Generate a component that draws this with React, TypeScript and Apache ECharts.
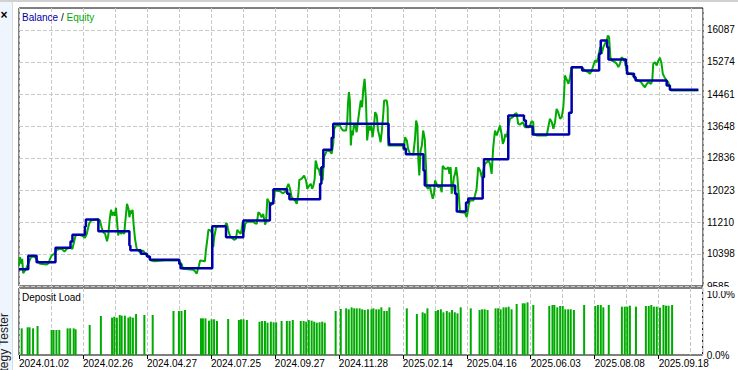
import React, { useEffect, useRef } from "react";
import * as echarts from "echarts";

// x positions are deal-sequence positions (0 .. 213.75); labels every 20
const xLabelPositions = [0, 20, 40, 60, 80, 100, 120, 140, 160, 180, 200];
const xTickLabels = [
  "2024.01.02", "2024.02.26", "2024.04.27", "2024.07.25", "2024.09.27", "2024.11.28",
  "2025.02.14", "2025.04.16", "2025.06.03", "2025.08.08", "2025.09.18",
];
const yTickValues = [9585, 10398, 11210, 12023, 12836, 13648, 14461, 15274, 16087];
const loadTickValues = [0, 10];

const balance: [number, number][] = [
  [0, 10011], [2.9, 10351], [5.5, 10189], [11.4, 10555], [16.1, 10715], [16.7, 10885],
  [20.6, 11096], [20.9, 11273], [24.8, 10976], [34.5, 10613], [34.8, 10494], [38.1, 10402],
  [40, 10334], [40.9, 10250], [50.1, 10143], [50.5, 10036], [60.4, 11103], [64.7, 10824],
  [70.1, 11248], [78.4, 11680], [79.5, 12043], [83.8, 11926], [84.5, 11789], [94.1, 12180],
  [94.5, 12602], [95.1, 13044], [97.7, 13349], [98.2, 13704], [115.5, 13407], [115.7, 13178],
  [120.3, 13069], [120.9, 12932], [126.4, 12518], [126.8, 12137], [136.3, 11926], [136.8, 11477],
  [139.7, 11705], [140.4, 11807], [144.9, 12348], [145.3, 12805], [152.9, 13915], [157.8, 13788],
  [158.4, 13636], [160.5, 13432], [171.9, 13984], [172.7, 15142], [176, 15058], [181.3, 15482],
  [181.8, 15820], [183.8, 15650], [184.2, 15337], [189.7, 15185], [190, 14974], [192.2, 14888],
  [192.7, 14804], [202.4, 14677], [203.4, 14568], [212.3, 14568],
];

const equity: [number, number][] = [
  [0, 10105], [0.3, 10316], [0.8, 10148], [1.0, 10275], [1.3, 9909], [1.9, 9978], [2.4, 10062],
  [3.1, 10189], [3.75, 10316], [4.5, 10334], [5.2, 10301], [5.8, 10232], [6.6, 10148], [8.7, 10130],
  [9.2, 10163], [9.7, 10275], [10.2, 10359], [11.0, 10402], [11.8, 10504], [13.3, 10529],
  [14.2, 10461], [14.9, 10529], [15.9, 10555], [16.7, 10529], [17.3, 10740], [17.7, 10867],
  [18.5, 10885], [19.6, 10867], [20.6, 10809], [21.2, 10910], [21.9, 11164], [22.5, 11248],
  [24.8, 11281], [25.3, 11248], [25.8, 11078], [26.3, 10951], [26.9, 10910], [27.5, 10722],
  [27.9, 10867], [28.3, 11248], [28.75, 11520], [29.2, 11375], [29.6, 11459], [30.0, 11375],
  [30.3, 11571], [30.7, 11164], [31.0, 10867], [31.3, 10994], [31.9, 10910], [32.3, 10951],
  [32.9, 10910], [33.1, 11121], [33.4, 11375], [33.75, 11672], [34.2, 11545], [34.5, 11332],
  [34.9, 11502], [35.2, 11418], [35.5, 11520], [35.8, 11164], [36.25, 10783], [36.8, 10529],
  [37.8, 10443], [38.8, 10486], [39.6, 10384], [40.4, 10334], [41.25, 10232], [42.3, 10214],
  [45.6, 10232], [49.8, 10232], [50.8, 10148], [51.3, 10021], [54.5, 9996], [55, 9960],
  [55.5, 9894], [55.8, 9978], [56.25, 10105], [56.6, 10232], [58.1, 10214], [58.4, 10486],
  [58.8, 10740], [59.2, 11012], [59.9, 10994], [60.4, 10910], [60.7, 10570], [61.0, 10824],
  [61.6, 11078], [62.3, 11103], [64.4, 11103], [64.7, 11179], [65, 11164], [65.4, 10994],
  [65.9, 10867], [66.5, 10809], [67.2, 10758], [67.8, 10783], [68.2, 11012], [68.8, 10951],
  [69.3, 10910], [69.6, 11037], [69.9, 11205], [70.3, 10951], [70.7, 11164], [71.3, 11215],
  [73.2, 11215], [73.75, 11179], [74.3, 11164], [74.8, 11459], [75.3, 11418], [75.8, 11332],
  [76.3, 11418], [76.9, 11146], [77.2, 11205], [77.6, 11799], [78.2, 11713], [78.75, 11629],
  [79.5, 11756], [80, 12010], [81.6, 11992], [82.4, 11941], [83.1, 11967], [84.2, 12180],
  [84.7, 12053], [85.2, 11840], [86.25, 11756], [86.8, 11672], [87.3, 11926], [87.6, 12282],
  [88.3, 12307], [89.1, 12391], [89.7, 12264], [90.1, 12053], [90.7, 12137], [91.2, 12180],
  [91.6, 12053], [92, 12137], [92.4, 12307], [92.7, 12772], [93, 12688], [93.3, 12561],
  [93.7, 12561], [94.1, 12391], [94.5, 12602], [94.9, 12264], [95.3, 12856], [96.2, 13026],
  [97.2, 13008], [97.7, 12942], [98.2, 13196], [98.5, 13577], [99.1, 13661], [100.3, 13661],
  [100.8, 13577], [101.3, 13534], [102.2, 13534], [102.6, 13788], [102.8, 14212], [103.1, 14507],
  [103.4, 14296], [103.7, 13153], [104, 13534], [104.3, 13407], [104.7, 13704], [105.1, 13661],
  [105.5, 13491], [105.9, 13745], [106.3, 13999], [106.8, 14296], [107.2, 14126], [107.6, 14593],
  [108, 14847], [108.4, 14339], [108.8, 13280], [109.3, 13661], [109.7, 13534], [110.1, 13661],
  [110.5, 13364], [110.9, 13618], [111.3, 13999], [111.8, 13915], [112.2, 13534], [112.6, 13407],
  [113, 13237], [113.4, 13534], [113.8, 13915], [114.1, 14296], [114.9, 14296], [115.2, 14126],
  [115.4, 13153], [119.9, 13153], [120.3, 13026], [120.6, 13364], [121.2, 13280], [121.6, 13069],
  [122.2, 12942], [123.2, 12924], [123.75, 13323], [124.1, 13788], [124.5, 13661], [124.8, 12772],
  [125.1, 12391], [125.5, 13026], [125.9, 13153], [126.3, 13534], [126.8, 13323], [127.2, 12602],
  [127.4, 12094], [127.9, 12053], [128.4, 12137], [128.8, 11967], [129.3, 11799], [129.7, 11926],
  [130, 12264], [130.5, 12180], [131, 12094], [131.6, 12137], [132.1, 11967], [132.4, 12637],
  [133.1, 12561], [133.7, 12561], [134.2, 12602], [134.5, 12434], [134.9, 12602], [135.2, 11926],
  [135.5, 12053], [135.9, 12348], [136.25, 12434], [136.6, 12602], [137, 12348], [137.4, 11926],
  [137.8, 11459], [139.4, 11444], [139.9, 11332], [140.2, 11459], [140.5, 11629], [140.9, 11756],
  [142, 11756], [142.5, 11883], [143, 12053], [143.5, 12602], [144.1, 12518], [144.6, 12348],
  [145.1, 12518], [145.6, 12688], [146.2, 12729], [146.7, 12772], [147.2, 12688], [147.7, 12434],
  [148.2, 13110], [148.75, 13534], [149.3, 13407], [149.8, 13534], [150.3, 13661], [150.8, 13450],
  [151.2, 13196], [151.6, 13280], [152, 13450], [152.4, 13364], [152.9, 13618], [153.4, 13831],
  [154.3, 13872], [155, 13958], [155.5, 13973], [156, 13704], [156.6, 13686], [157.4, 13745],
  [158.1, 13618], [159.5, 13618], [160.2, 13770], [160.7, 13745], [160.9, 13450], [161.8, 13407],
  [164.9, 13407], [165.4, 13618], [165.9, 13831], [166.5, 13745], [167, 13577], [167.5, 13745],
  [168, 14085], [168.5, 13999], [169.1, 13831], [169.6, 13872], [170.1, 14126], [170.4, 14550],
  [170.6, 14931], [171.2, 14822], [171.7, 14720], [172.2, 14888], [172.7, 15142], [175.8, 15142],
  [176.9, 15058], [177.9, 15015], [178.4, 14974], [179, 15058], [179.5, 15185], [180, 15312],
  [180.5, 15269], [181, 15396], [181.6, 15650], [182.1, 15482], [182.6, 15650], [183.1, 15736],
  [183.7, 15820], [184, 15947], [184.4, 15904], [184.8, 15396], [185.2, 15312], [186.25, 15269],
  [186.8, 15228], [187.3, 15142], [187.8, 15228], [188.3, 15396], [188.8, 15355], [189.4, 15269],
  [189.9, 15058], [190.4, 14989], [191.5, 14974], [192, 14906], [192.5, 14847], [193.5, 14804],
  [194.4, 14761], [195.1, 14677], [195.6, 14634], [196.2, 14720], [196.7, 14761], [197.5, 14720],
  [197.9, 14804], [198.2, 15228], [198.75, 15269], [199.3, 15185], [199.8, 15312], [200.3, 15381],
  [200.8, 15228], [201.2, 14974], [201.7, 14888], [202.4, 14804], [202.9, 14761], [203.4, 14634],
  [203.75, 14550], [212.3, 14550],
];

const depositLoad: [number, number][] = [
  [0.84, 4.37], [2.7, 4.54], [3.3, 4.54], [4.4, 4.37], [5.8, 4.75], [10.2, 4.1], [10.8, 4.1],
  [11.7, 4.1], [12.6, 4.1], [15.2, 4.37], [16.0, 4.37], [17.1, 4.37], [17.7, 4.21], [22.1, 4.92],
  [25.6, 6.39], [29.1, 6.12], [29.8, 6.28], [30.6, 6.12], [31.5, 6.56], [32.1, 6.45], [33.1, 6.45],
  [34.2, 6.12], [34.8, 6.28], [35.6, 6.12], [36.6, 6.72], [39.2, 6.56], [41.8, 6.56], [48.3, 7.21],
  [50, 7.21], [50.8, 7.21], [51.9, 7.38], [56.9, 6.01], [57.5, 6.01], [58.3, 6.01], [59.4, 5.63],
  [60.2, 5.85], [61, 5.85], [61.9, 5.57], [65.4, 5.9], [68.75, 5.74], [69.4, 5.85], [70.2, 5.85],
  [71.25, 5.74], [75.2, 5.46], [76, 5.57], [76.9, 5.57], [77.7, 5.3], [78.75, 5.46], [79.6, 5.36],
  [80.4, 5.36], [82.1, 5.57], [83.75, 5.57], [84.6, 5.57], [85.6, 5.74], [88.1, 5.57], [89, 5.57],
  [89.8, 5.46], [90.6, 5.74], [91.5, 5.63], [92.3, 5.46], [93.1, 5.3], [93.97, 5.36], [94.8, 5.46],
  [95.6, 5.3], [99, 7.21], [100.6, 7.54], [102.3, 7.65], [103.1, 7.49], [104, 7.81], [104.8, 7.65],
  [105.6, 7.65], [106.5, 7.65], [107.3, 7.49], [108.1, 7.38], [109.1, 7.49], [110.2, 7.49],
  [110.8, 7.65], [111.7, 7.49], [112.5, 7.49], [113.3, 7.81], [114.2, 7.21], [115, 7.21],
  [115.8, 7.81], [121.25, 7.65], [124.4, 6.72], [126.2, 7.0], [126.9, 6.83], [127.7, 7.65],
  [130.3, 7.21], [131, 7.38], [131.9, 7.49], [132.7, 7.0], [133.75, 7.21], [134.6, 7.0],
  [135.4, 7.38], [136.25, 7.0], [137.1, 6.83], [138.1, 7.81], [141.25, 7.65], [144, 7.38],
  [144.8, 7.49], [145.6, 7.49], [146.5, 7.38], [149, 7.65], [149.8, 7.65], [150.6, 7.49],
  [151.5, 7.81], [152.3, 7.81], [153.1, 7.92], [154, 7.49], [155.6, 8.36], [157.5, 8.47],
  [158.1, 8.47], [159, 8.63], [160.8, 8.2], [165.8, 8.03], [166.8, 8.2], [167.4, 8.2],
  [168.3, 7.81], [169.2, 8.03], [170, 8.03], [170.8, 7.49], [171.7, 7.49], [172.5, 7.49],
  [173.5, 7.38], [176.7, 8.2], [180.2, 8.03], [181, 8.2], [181.9, 8.2], [182.7, 7.81], [184.4, 8.2],
  [188.5, 7.92], [189.4, 7.92], [190.2, 7.92], [191, 8.09], [192.9, 7.92], [196, 8.03], [196.9, 8.03],
  [197.7, 8.2], [198.5, 7.92], [199.4, 7.92], [200.4, 7.76], [201.5, 8.2], [202.3, 8.09],
  [203.1, 8.09], [204.2, 8.2],
];

const FONT = "'Liberation Sans', Arial, sans-serif";
const BLUE = "#0000aa";
const GREEN = "#00aa00";
const GRID_LINE = { show: true, lineStyle: { color: "#c8c8c8", width: 1, type: [4, 2] as number[] } };
const X_MAX = 213.75;
const Y_MIN = 9585;
const Y_MAX = 9585 + (278 / 32) * 812.7;
const LOAD_MAX = 67 / 6.1;

export default function App() {
  const ref = useRef<HTMLDivElement>(null);
  useEffect(() => {
    if (!ref.current) return;
    const chart = echarts.init(ref.current, null, { renderer: "svg" });
    chart.setOption({
      animation: false,
      backgroundColor: "#ffffff",
      textStyle: { fontFamily: FONT },
      grid: [
        { left: 19, top: 8, width: 684, height: 278, show: true, borderColor: "#000", borderWidth: 1, backgroundColor: "#fff" },
        { left: 19, top: 288, width: 684, height: 67, show: true, borderColor: "#000", borderWidth: 1, backgroundColor: "#fff" },
      ],
      xAxis: [
        {
          gridIndex: 0, type: "value", min: 0, max: X_MAX, interval: 10,
          axisLine: { show: false }, axisTick: { show: false }, axisLabel: { show: false },
          splitLine: GRID_LINE,
        },
        {
          gridIndex: 1, type: "value", min: 0, max: X_MAX, interval: 10,
          axisLine: { show: false }, axisTick: { show: false }, axisLabel: { show: false },
          splitLine: GRID_LINE,
        },
        {
          gridIndex: 1, type: "value", min: 0, max: X_MAX, position: "bottom",
          axisLine: { show: false },
          axisTick: { show: true, customValues: xLabelPositions, length: 4, lineStyle: { color: "#000" } },
          axisLabel: {
            show: true, customValues: xLabelPositions, align: "left", margin: 3,
            color: "#000", fontSize: 10, fontFamily: FONT,
            formatter: (v: number) => xTickLabels[xLabelPositions.indexOf(v)] ?? "",
          },
          splitLine: { show: false },
        },
      ],
      yAxis: [
        {
          gridIndex: 0, type: "value", position: "right", min: Y_MIN, max: Y_MAX,
          axisLine: { show: false },
          axisTick: { show: false, customValues: yTickValues },
          axisLabel: {
            show: true, customValues: yTickValues, margin: 4, color: "#000", fontSize: 10, fontFamily: FONT,
            formatter: (v: number) => String(Math.round(v)),
          },
          splitLine: GRID_LINE,
        },
        {
          gridIndex: 1, type: "value", position: "right", min: 0, max: LOAD_MAX,
          axisLine: { show: false },
          axisTick: { show: false, customValues: loadTickValues },
          axisLabel: {
            show: true, customValues: loadTickValues, margin: 4, color: "#000", fontSize: 10, fontFamily: FONT,
            formatter: (v: number) => v.toFixed(1) + "%",
          },
          splitLine: { show: false },
        },
      ],
      series: [
        {
          name: "Equity", type: "line", xAxisIndex: 0, yAxisIndex: 0, data: equity,
          showSymbol: false, symbol: "none", z: 2,
          lineStyle: { color: GREEN, width: 2 },
        },
        {
          name: "Balance", type: "line", xAxisIndex: 0, yAxisIndex: 0, data: balance, step: "end",
          showSymbol: false, symbol: "none", z: 3,
          lineStyle: { color: BLUE, width: 2.5 },
        },
        {
          name: "Deposit Load", type: "bar", xAxisIndex: 1, yAxisIndex: 1, data: depositLoad,
          barWidth: 2, itemStyle: { color: GREEN },
        },
      ],
      graphic: [
        { type: "rect", z: 100, shape: { x: 0, y: 0, width: 738, height: 2 }, style: { fill: "#d0d0d0" } },
        { type: "rect", z: 100, shape: { x: 0, y: 2, width: 12, height: 368 }, style: { fill: "#eef5fd" } },
        { type: "rect", z: 100, shape: { x: 12, y: 2, width: 1, height: 368 }, style: { fill: "#d6dbe0" } },
        { type: "rect", z: 100, shape: { x: 704, y: 287, width: 34, height: 4 }, style: { fill: "#fff" } },
        {
          type: "text", z: 101, x: 4, y: 15,
          style: { text: "×", fill: "#000", font: `bold 12px ${FONT}`, align: "center", verticalAlign: "middle" },
        },
        {
          type: "text", z: 101, x: 4, y: 313, rotation: Math.PI / 2,
          style: { text: "Strategy Tester", fill: "#222", font: `12px ${FONT}`, align: "right", verticalAlign: "middle" },
        },
        {
          type: "text", z: 101, x: 22, y: 17,
          style: {
            text: "{b|Balance} / {e|Equity}", fill: "#000", font: `10px ${FONT}`, verticalAlign: "middle",
            rich: {
              b: { fill: BLUE, font: `10px ${FONT}` },
              e: { fill: GREEN, font: `10px ${FONT}` },
            },
          },
        },
        {
          type: "text", z: 101, x: 22, y: 297,
          style: { text: "Deposit Load", fill: "#000", font: `10px ${FONT}`, verticalAlign: "middle" },
        },
      ],
    });
    return () => chart.dispose();
  }, []);
  return <div ref={ref} style={{ position: "fixed", left: 0, top: 0, width: 738, height: 370 }} />;
}
